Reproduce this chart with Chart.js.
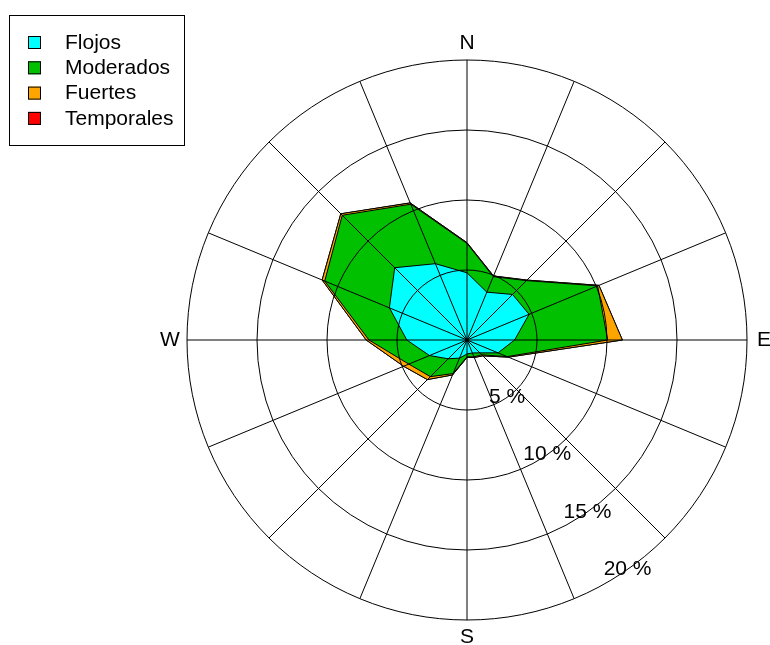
<!DOCTYPE html>
<html>
<head>
<meta charset="utf-8">
<script src="https://cdn.jsdelivr.net/npm/chart.js@4.4.1/dist/chart.umd.min.js"></script>
<style>
  html, body { margin: 0; padding: 0; background: #fff; }
  canvas { display: block; }
</style>
</head>
<body>
<canvas id="rose" width="770" height="645"></canvas>
<script>
// 16 wind directions, clockwise from north
const directions = ['N','NNE','NE','ENE','E','ESE','SE','SSE','S','SSW','SW','WSW','W','WNW','NW','NNW'];
const axisLabels = ['N','','','','E','','','','S','','','','W','','',''];

// frequency (%) of each class per direction
const flojos     = [4.8, 3.7, 4.6, 4.8, 3.4, 2.4, 1.3, 1.0, 1.0, 1.4, 1.9, 2.9, 4.3, 6.0, 7.3, 5.9];
const moderados  = [2.1, 1.2, 1.4, 5.3, 6.65, 0.7, 0.2, 0.3, 0.2, 1.2, 1.8, 1.6, 2.7, 5.0, 5.3, 4.6];
const fuertes    = [0.05, 0.05, 0.05, 0.1, 1.05, 0.1, 0.1, 0.05, 0.05, 0.1, 0.3, 0.4, 0.2, 0.2, 0.15, 0.1];
const temporales = [0, 0, 0, 0, 0, 0, 0, 0, 0, 0, 0, 0, 0, 0, 0, 0];

const seriesNames  = ['Flojos', 'Moderados', 'Fuertes', 'Temporales'];
const seriesColors = ['#00FFFF', '#00C000', '#FFA500', '#FF0000'];
const ringValues   = [5, 10, 15, 20];

// stack the classes: each polygon is the running total
let running = directions.map(() => 0);
const stacked = [flojos, moderados, fuertes, temporales].map(arr => {
  running = running.map((v, i) => v + arr[i]);
  return running;
});

const FONT = '21px "Liberation Sans", Arial, sans-serif';

const roseLabels = {
  id: 'roseLabels',
  afterDraw(chart) {
    const {ctx} = chart;
    const scale = chart.scales.r;
    ctx.save();
    ctx.font = FONT;
    ctx.fillStyle = '#000';
    ctx.textAlign = 'center';
    ctx.textBaseline = 'middle';

    // compass letters
    axisLabels.forEach((lab, i) => {
      if (!lab) return;
      const p = scale.getPointPosition(i, scale.drawingArea + 17);
      ctx.fillText(lab, p.x, p.y);
    });

    // ring labels along a diagonal
    const ang = 145 * Math.PI / 180;
    ringValues.forEach(v => {
      const d = scale.getDistanceFromCenterForValue(v);
      ctx.fillText(v + ' %', scale.xCenter + d * Math.sin(ang), scale.yCenter - d * Math.cos(ang));
    });

    // legend box
    ctx.lineWidth = 1;
    ctx.strokeStyle = '#000';
    ctx.strokeRect(9.5, 15.5, 175, 130);
    ctx.textAlign = 'left';
    seriesNames.forEach((name, i) => {
      const y = 42 + i * 25.3;
      ctx.fillStyle = seriesColors[i];
      ctx.fillRect(28, y - 6, 13, 13);
      ctx.strokeRect(28.5, y - 5.5, 12, 12);
      ctx.fillStyle = '#000';
      ctx.fillText(name, 65, y + 1);
    });
    ctx.restore();
  }
};

new Chart(document.getElementById('rose'), {
  type: 'radar',
  data: {
    labels: axisLabels,
    datasets: seriesNames.map((name, i) => ({
      label: name,
      data: stacked[i],
      backgroundColor: seriesColors[i],
      borderColor: '#000',
      borderWidth: 1,
      fill: true,
      pointRadius: 0,
      tension: 0
    }))
  },
  options: {
    responsive: false,
    animation: false,
    layout: { padding: { left: 187, top: 60, right: 22, bottom: 25 } },
    plugins: { legend: { display: false }, tooltip: { enabled: false } },
    scales: {
      r: {
        min: 0,
        max: 20,
        ticks: { stepSize: 5, display: false, z: 1 },
        pointLabels: { display: false },
        grid: { circular: true, color: '#000', lineWidth: 1, z: 1 },
        angleLines: { color: '#000', lineWidth: 1 }
      }
    }
  },
  plugins: [roseLabels]
});
</script>
</body>
</html>
